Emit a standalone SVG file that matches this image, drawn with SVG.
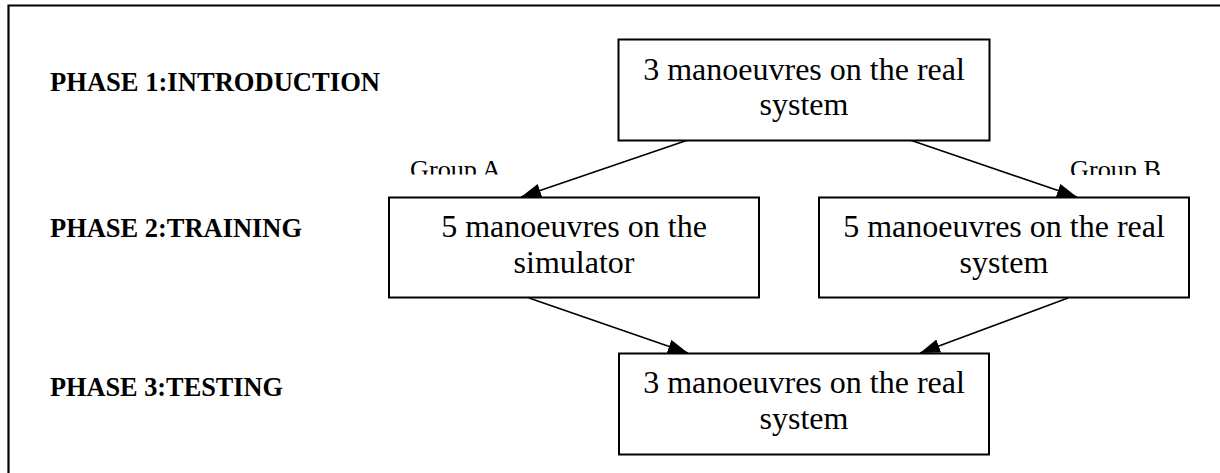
<svg xmlns="http://www.w3.org/2000/svg" width="1220" height="473" viewBox="0 0 1220 473">
  <style>
    .frame { fill: none; stroke: #000; stroke-width: 2.2; }
    .box { fill: #fff; stroke: #000; stroke-width: 2; }
    .txt { font-family: "Liberation Serif", "Times New Roman", serif; font-size: 32px; fill: #000; text-anchor: middle; }
    .phase { font-family: "Liberation Serif", "Times New Roman", serif; font-size: 27px; font-weight: bold; fill: #000; }
    .grp { font-family: "Liberation Serif", "Times New Roman", serif; font-size: 25px; fill: #000; }
    .conn { fill: none; stroke: #000; stroke-width: 1.6; }
  </style>
  <defs>
    <marker id="arrow" markerUnits="userSpaceOnUse" markerWidth="22" markerHeight="16" refX="20" refY="7" orient="auto">
      <path d="M0,0 L20,7 L0,14 z" fill="#000"/>
    </marker>
    <clipPath id="clipGroupA"><rect x="380" y="140" width="200" height="34.5"/></clipPath>
    <clipPath id="clipGroupB"><rect x="1040" y="140" width="180" height="35"/></clipPath>
  </defs>
  <rect width="1220" height="473" fill="#fff"/>
  <path class="frame" d="M8.5,480 V5.5 H1230"/>

  <g id="labels">
    <text class="phase" x="50" y="91" textLength="330" lengthAdjust="spacingAndGlyphs">PHASE 1:INTRODUCTION</text>
    <text class="phase" x="50" y="237" textLength="252" lengthAdjust="spacingAndGlyphs">PHASE 2:TRAINING</text>
    <text class="phase" x="50" y="396" textLength="233" lengthAdjust="spacingAndGlyphs">PHASE 3:TESTING</text>
  </g>

  <g id="connectors">
    <line class="conn" x1="688" y1="140" x2="521" y2="197" marker-end="url(#arrow)"/>
    <line class="conn" x1="910" y1="140" x2="1077" y2="197" marker-end="url(#arrow)"/>
    <line class="conn" x1="529" y1="298" x2="688" y2="353" marker-end="url(#arrow)"/>
    <line class="conn" x1="1068" y1="298" x2="920" y2="353" marker-end="url(#arrow)"/>
    <g clip-path="url(#clipGroupA)">
      <text class="grp" x="410" y="177.5" textLength="91" lengthAdjust="spacingAndGlyphs">Group A</text>
    </g>
    <g clip-path="url(#clipGroupB)">
      <text class="grp" x="1070" y="178" textLength="91" lengthAdjust="spacingAndGlyphs">Group B</text>
    </g>
  </g>

  <g id="node-intro">
    <rect class="box" x="618.5" y="39.5" width="371" height="101"/>
    <text class="txt" x="804" y="80">3 manoeuvres on the real</text>
    <text class="txt" x="804" y="115">system</text>
  </g>

  <g id="node-simulator">
    <rect class="box" x="389" y="197.5" width="370" height="100"/>
    <text class="txt" x="574" y="237">5 manoeuvres on the</text>
    <text class="txt" x="574" y="273">simulator</text>
  </g>

  <g id="node-real-training">
    <rect class="box" x="819" y="197.5" width="370" height="100"/>
    <text class="txt" x="1004" y="237">5 manoeuvres on the real</text>
    <text class="txt" x="1004" y="273">system</text>
  </g>

  <g id="node-testing">
    <rect class="box" x="619" y="353.5" width="370" height="101"/>
    <text class="txt" x="804" y="393">3 manoeuvres on the real</text>
    <text class="txt" x="804" y="429">system</text>
  </g>
</svg>
